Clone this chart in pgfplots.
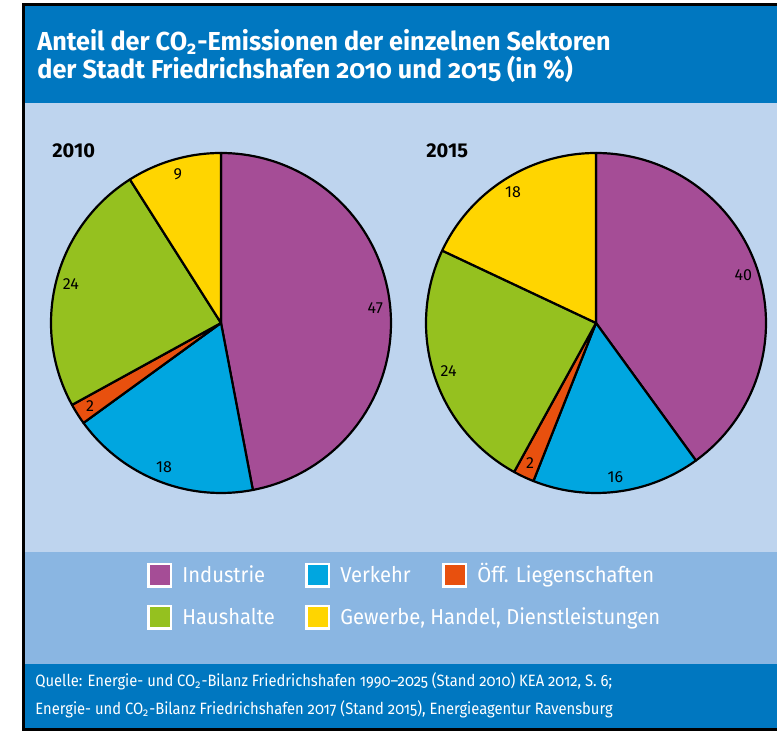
\documentclass[border=0pt]{standalone}
\usepackage{pgfplots}
\pgfplotsset{compat=1.18}
\usepackage{pgfplotstable}
\usepackage{fontspec}
\setmainfont{Fira Sans}[Numbers=OldStyle, FakeStretch=0.935]
\newfontfamily\titlefont{Fira Sans}[Numbers=OldStyle, FakeStretch=0.97, Ligatures=TeX]
\newfontfamily\footfont{Fira Sans}[Numbers=OldStyle, FakeStretch=0.9, Ligatures=TeX]
\newfontfamily\lining{Fira Sans}
\definecolor{cInd}{HTML}{A54D96}
\definecolor{cVer}{HTML}{00A6E0}
\definecolor{cOef}{HTML}{E8500E}
\definecolor{cHau}{HTML}{95C11F}
\definecolor{cGew}{HTML}{FFD500}
\definecolor{titleblue}{HTML}{0077C0}
\definecolor{panelblue}{HTML}{BED4EE}
\definecolor{legendblue}{HTML}{8AB6E2}

\pgfplotstableread{
sector value color
Industrie 47 cInd
Verkehr 18 cVer
Oeff 2 cOef
Haushalte 24 cHau
Gewerbe 9 cGew
}\tabA
\pgfplotstableread{
sector value color
Industrie 40 cInd
Verkehr 16 cVer
Oeff 2 cOef
Haushalte 24 cHau
Gewerbe 18 cGew
}\tabB

\newcommand\drawpie[3]{%
  \def\cum{0}%
  \pgfplotsforeachungrouped \i in {0,...,4}{%
    \pgfplotstablegetelem{\i}{value}\of#1\let\val\pgfplotsretval
    \pgfplotstablegetelem{\i}{color}\of#1\let\col\pgfplotsretval
    \pgfmathsetmacro\aa{90-3.6*\cum}%
    \pgfmathsetmacro\bb{90-3.6*(\cum+\val)}%
    \pgfmathsetmacro\mm{(\aa+\bb)/2}%
    \pgfmathsetmacro\lx{#2+155*cos(\mm)}%
    \pgfmathsetmacro\ly{#3+155*sin(\mm)}%
    \edef\cmd{%
      \noexpand\addplot[fill=\col, draw=black, line width=1.1pt, line join=round, domain=\bb:\aa, samples=90]
        ({#2+170*cos(x)},{#3+170*sin(x)}) -- (axis cs:#2,#3) -- cycle;
      \noexpand\node[font=\noexpand\lining\noexpand\fontsize{8}{9}\noexpand\selectfont] at (axis cs:\lx,\ly) {\val};
    }%
    \cmd
    \pgfmathsetmacro\cum{\cum+\val}%
  }%
}

\begin{document}
\begin{tikzpicture}
\begin{scope}[x=0.5pt,y=0.5pt]
  \fill[white] (0,0) rectangle (777,733);
  \fill[titleblue] (23,630) rectangle (790,728);
  \fill[panelblue] (23,181) rectangle (790,630);
  \fill[legendblue] (23,69) rectangle (790,181);
  \fill[titleblue] (23,3) rectangle (790,69);
  \draw[line width=1.5pt] (23.5,3) rectangle (800,728.5);
  % title
  \node[anchor=base west, text=white, font=\titlefont\fontsize{13}{15}\selectfont\bfseries, inner sep=0pt] at (37,682) {Anteil der CO\textsubscript{2}-Emissionen der einzelnen Sektoren};
  \node[anchor=base west, text=white, font=\titlefont\fontsize{13}{15}\selectfont\bfseries, inner sep=0pt] at (37,654) {der Stadt Friedrichshafen 2010 und 2015 (in \%)};
  % pie headings
  \node[anchor=base west, font=\lining\fontsize{10}{11}\selectfont\bfseries, inner sep=0pt] at (52,575) {2010};
  \node[anchor=base west, font=\lining\fontsize{10}{11}\selectfont\bfseries, inner sep=0pt] at (426,575) {2015};
  % legend
  \foreach \x/\y/\c/\t in {147/170/cInd/Industrie, 305/170/cVer/Verkehr, 442/170/cOef/{Öff. Liegenschaften}, 147/128/cHau/Haushalte, 305/128/cGew/{Gewerbe, Handel, Dienstleistungen}}{
    \fill[white] (\x,\y-25) rectangle (\x+25,\y);
    \fill[\c] (\x+2.5,\y-22.5) rectangle (\x+22.5,\y-2.5);
    \node[anchor=base west, text=white, font=\fontsize{10.8}{12}\selectfont, inner sep=0pt] at (\x+35,\y-20) {\t};
  }
  % footer
  \node[anchor=base west, text=white, font=\footfont\fontsize{8.2}{10}\selectfont, inner sep=0pt] at (35,46) {Quelle: Energie- und CO\textsubscript{2}-Bilanz Friedrichshafen 1990–2025 (Stand 2010) KEA 2012, S. 6;};
  \node[anchor=base west, text=white, font=\footfont\fontsize{8.2}{10}\selectfont, inner sep=0pt] at (35,18) {Energie- und CO\textsubscript{2}-Bilanz Friedrichshafen 2017 (Stand 2015), Energieagentur Ravensburg};
\end{scope}
\begin{axis}[at={(0,0)}, anchor=south west, hide axis, scale only axis,
  width=388.5pt, height=366.5pt, xmin=0, xmax=777, ymin=0, ymax=733, clip=false]
  \drawpie{\tabA}{221}{410}
  \drawpie{\tabB}{596}{410}
\end{axis}
\pgfresetboundingbox
\useasboundingbox (0,0) rectangle (388.5pt,366.5pt);
\end{tikzpicture}
\end{document}
